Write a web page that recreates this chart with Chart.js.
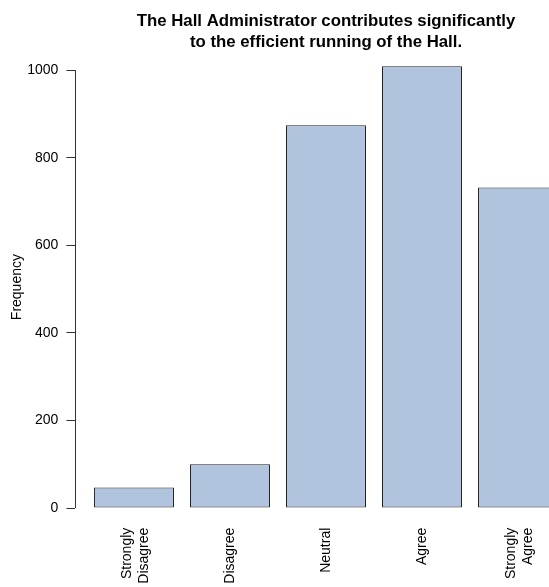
<!DOCTYPE html>
<html>
<head>
<meta charset="utf-8">
<script src="https://cdn.jsdelivr.net/npm/chart.js@4/dist/chart.umd.min.js"></script>
<style>
html,body{margin:0;padding:0;background:#fff;overflow:hidden;width:549px;height:587px;}
canvas{display:block;}
</style>
</head>
<body>
<canvas id="c" width="620" height="600"></canvas>
<script>
// ---- data ----
const categories = [["Strongly", "Disagree"], "Disagree", "Neutral", "Agree", ["Strongly", "Agree"]];
const frequencies = [47, 100, 874, 1009, 732];
const yTicks = [0, 200, 400, 600, 800, 1000];
const titleLines = ["The Hall Administrator contributes significantly", "to the efficient running of the Hall."];
const yTitle = "Frequency";

// R barplot layout: bar width 1, space 0.2 -> centres at 0.7, 1.9, ...
const barWidth = 1, barSpace = 0.2;
const centres = categories.map((_, i) => barSpace + barWidth / 2 + i * (barWidth + barSpace));
const xLo = barSpace, xHi = categories.length * (barWidth + barSpace);
const xExt = (xHi - xLo) * 0.04;
const yMaxData = Math.max(0, ...frequencies);
const yExt = yMaxData * 0.04;

const FONT = "'Liberation Sans', Arial, Helvetica, sans-serif";
const AXIS_SIZE = 14;
const LABEL_LH = 1.2;

const rAxisLine = {
  id: 'rAxisLine',
  beforeDraw(chart) {
    // centre multi-line rotated category labels on their bars
    const xs = chart.scales.x;
    const lh = AXIS_SIZE * LABEL_LH;
    xs.getLabelItems().forEach(it => {
      if (Array.isArray(it.label) && !it._centred) {
        it.options.translation[0] -= (it.label.length - 1) * lh * 0.39;
        it._centred = true;
      }
    });
  },
  afterDraw(chart) {
    const y = chart.scales.y, ctx = chart.ctx;
    const x = Math.round(chart.chartArea.left) + 0.5;
    ctx.save();
    ctx.strokeStyle = '#333';
    ctx.lineWidth = 1;
    ctx.beginPath();
    ctx.moveTo(x, y.getPixelForValue(yTicks[0]));
    ctx.lineTo(x, y.getPixelForValue(yTicks[yTicks.length - 1]));
    ctx.stroke();
    ctx.restore();
  }
};

new Chart(document.getElementById('c'), {
  type: 'bar',
  data: {
    datasets: [{
      data: frequencies.map((v, i) => ({ x: centres[i], y: v })),
      backgroundColor: '#B0C4DE',
      borderColor: '#222',
      borderWidth: 1,
      borderSkipped: false,
      categoryPercentage: 1,
      barPercentage: barWidth / (barWidth + barSpace)
    }]
  },
  options: {
    responsive: false,
    animation: false,
    devicePixelRatio: 1,
    layout: { padding: { left: 0, right: 43.4, top: 0, bottom: 0 } },
    plugins: {
      legend: { display: false },
      tooltip: { enabled: false },
      title: {
        display: true,
        text: titleLines,
        fullSize: false,
        color: '#000',
        font: { family: FONT, size: 16.8, weight: 'bold', lineHeight: 20.5 / 16.8 },
        padding: { top: 11.5, bottom: -4 }
      }
    },
    scales: {
      x: {
        type: 'linear',
        offset: false,
        min: xLo - xExt,
        max: xHi + xExt,
        grid: { display: false, drawTicks: false },
        border: { display: false },
        afterBuildTicks(scale) { scale.ticks = centres.map(v => ({ value: v })); },
        afterFit(scale) { scale.height = 74.3; },
        ticks: {
          autoSkip: false,
          minRotation: 90,
          maxRotation: 90,
          padding: 2,
          color: '#000',
          font: { family: FONT, size: AXIS_SIZE, lineHeight: LABEL_LH },
          callback: (v, i) => categories[i]
        }
      },
      y: {
        min: -yExt,
        max: yMaxData + yExt,
        grid: { display: true, drawOnChartArea: false, drawTicks: true, tickLength: 9, color: '#333' },
        border: { display: false },
        afterBuildTicks(scale) { scale.ticks = yTicks.map(v => ({ value: v })); },
        afterFit(scale) { scale.width = 75.4; },
        ticks: {
          padding: 8,
          color: '#000',
          font: { family: FONT, size: AXIS_SIZE },
          callback: v => String(v)
        },
        title: {
          display: true,
          text: yTitle,
          color: '#000',
          font: { family: FONT, size: AXIS_SIZE },
          padding: { top: 9, bottom: 0 }
        }
      }
    }
  },
  plugins: [rAxisLine]
});
</script>
</body>
</html>
